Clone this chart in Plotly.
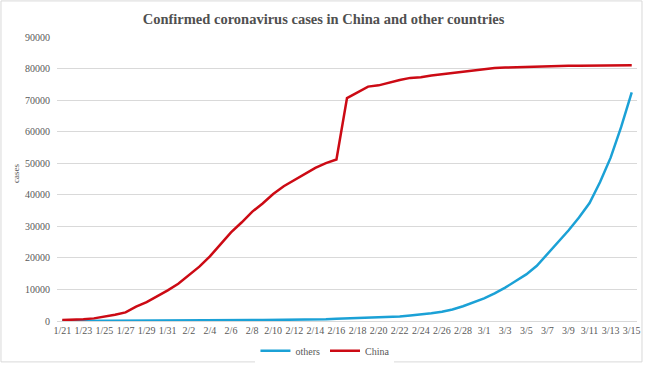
import plotly.graph_objects as go

dates = (["1/%d" % d for d in range(21, 32)] +
         ["2/%d" % d for d in range(1, 30)] +
         ["3/%d" % d for d in range(1, 16)])

china = [278, 309, 571, 830, 1297, 1985, 2741, 4537, 5997, 7736, 9720,
         11821, 14411, 17238, 20471, 24363, 28060, 31211, 34598, 37251, 40235,
         42708, 44730, 46550, 48548, 50054, 51174, 70635, 72528, 74280, 74675,
         75569, 76392, 77042, 77262, 77780, 78191, 78630, 78961, 79394,
         79968, 80174, 80304, 80422, 80565, 80711, 80813, 80859, 80904, 80924,
         80955, 80981, 80991, 81021, 81048]

others = [4, 5, 10, 16, 23, 29, 37, 56, 68, 82, 106,
          132, 146, 153, 159, 191, 216, 270, 288, 307, 319,
          393, 441, 447, 505, 526, 683, 794, 804, 924, 1073,
          1200, 1402, 1769, 2069, 2459, 2918, 3664, 4691, 6009,
          7169, 8774, 10566, 12668, 14768, 17481, 21110, 24727, 28674, 32778,
          37364, 44067, 51767, 61518, 72469]

tick_labels = dates[::2]
y_ticks = list(range(0, 90001, 10000))

serif = "Liberation Serif, Times New Roman, serif"
grey = "#595959"

fig = go.Figure()
fig.add_trace(go.Scatter(x=dates, y=others, mode="lines", name="others",
                         line=dict(color="#1BA1D6", width=2.5)))
fig.add_trace(go.Scatter(x=dates, y=china, mode="lines", name="China",
                         line=dict(color="#CC0A14", width=2.5)))

fig.update_layout(
    width=647, height=366,
    margin=dict(l=57, r=10, t=37, b=45, autoexpand=False),
    paper_bgcolor="white", plot_bgcolor="white",
    title=dict(text="<b>Confirmed coronavirus cases in China and other countries</b>",
               x=0.5, xanchor="center", xref="container", y=0.948, yanchor="middle",
               font=dict(family=serif, size=14.5, color="#505050")),
    font=dict(family=serif, size=10, color=grey),
    showlegend=True,
    legend=dict(orientation="h", x=0.462, xanchor="center", y=-0.105, yanchor="middle",
                font=dict(family=serif, size=10, color=grey),
                itemwidth=30, tracegroupgap=0),
    xaxis=dict(type="category", categoryorder="array", categoryarray=dates,
               range=[-0.5, len(dates) - 0.5], automargin=False,
               tickmode="array", tickvals=tick_labels, ticktext=tick_labels,
               tickangle=0, showgrid=False, showline=True, linecolor="#D9D9D9",
               linewidth=1, ticks="", tickfont=dict(family=serif, size=10, color=grey)),
    yaxis=dict(range=[0, 90000], tickmode="array", tickvals=y_ticks,
               ticktext=[str(v) for v in y_ticks], automargin=False,
               showgrid=True, gridcolor="#D9D9D9", gridwidth=1,
               zeroline=False, showline=False, ticks="", ticklabelstandoff=6,
               tickfont=dict(family=serif, size=10, color=grey)),
    annotations=[dict(text="cases", xref="paper", yref="paper",
                      x=-0.0707, y=0.521, textangle=-90, showarrow=False,
                      xanchor="center", yanchor="middle",
                      font=dict(family=serif, size=9, color=grey))],
    shapes=[dict(type="rect", xref="paper", yref="paper",
                 x0=-0.0966, x1=1.0086, y0=-0.144, y1=1.127,
                 line=dict(color="#D9D9D9", width=1), layer="below")],
)

fig.write_html("out.html", config={"displayModeBar": False},
               post_script="document.body.style.margin='0';document.body.style.padding='0';")
